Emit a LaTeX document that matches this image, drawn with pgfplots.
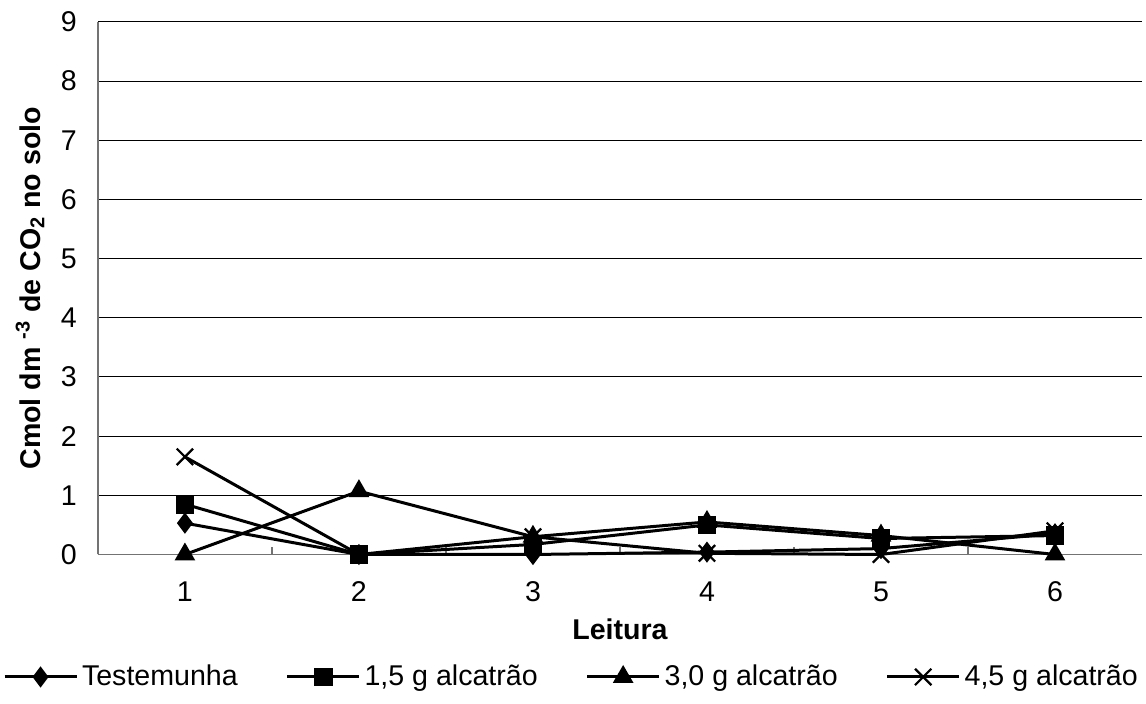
\documentclass[border=0pt]{standalone}
\usepackage{pgfplots}
\pgfplotsset{compat=1.18}
\usepackage{fontspec}
\setmainfont{Liberation Sans}
\begin{document}
\begin{tikzpicture}
\begin{axis}[name=ax,
  scale only axis,
  width=522.5pt, height=266.5pt,
  xmin=0.5, xmax=6.5,
  ymin=0, ymax=9,
  axis x line=bottom, axis y line=left,
  axis line style={-, draw=gray!90!black, line width=0.8pt},
  xtick={1,...,6},
  ytick={0,1,...,9},
  major tick length=0pt,
  extra x ticks={1.5,2.5,3.5,4.5,5.5},
  extra x tick labels={},
  extra x tick style={major tick length=4pt, tick align=inside, tick style={draw=gray!90!black, line width=0.6pt}, grid=none},
  ymajorgrids,
  grid style={black, line width=0.5pt},
  font=\fontsize{14.3pt}{16pt}\selectfont,
  /pgf/number format/assume math mode=true,
  xticklabel style={yshift=-10pt},
  yticklabel style={xshift=-7pt},
  xlabel={\bfseries Leitura},
  ylabel={\bfseries Cmol dm \textsuperscript{-3} de CO\textsubscript{2} no solo},
  every axis x label/.style={at={(axis description cs:0.5,-0.14)}, anchor=center},
  every axis y label/.style={at={(axis description cs:-0.065,0.5)}, rotate=90, anchor=center},
  legend style={at={(axis description cs:0.4545,-0.23)}, anchor=center, draw=none, fill=none,
    legend columns=4, /tikz/every even column/.append style={column sep=22pt},
    font=\fontsize{14.3pt}{16pt}\selectfont},
  legend image code/.code={\draw[mark repeat=2, mark phase=2] plot coordinates {(0pt,0pt) (18pt,0pt) (36pt,0pt)};},
  every axis plot/.append style={black, line width=1.5pt, mark options={solid, line width=1pt}},
  clip=false,
]
\addplot[mark=diamond*, mark size=4.5pt] coordinates {(1,0.53) (2,0) (3,0) (4,0.04) (5,0.1) (6,0.35)};
\addplot[mark=square*, mark size=4.2pt] coordinates {(1,0.85) (2,0) (3,0.17) (4,0.5) (5,0.27) (6,0.32)};
\addplot[mark=triangle*, mark size=5pt] coordinates {(1,0) (2,1.07) (3,0.3) (4,0.55) (5,0.32) (6,0)};
\addplot[mark=x, mark size=5.8pt, mark options={line width=1.1pt}] coordinates {(1,1.65) (2,0) (3,0.3) (4,0.02) (5,0) (6,0.4)};
\legend{Testemunha, {1,5 g alcatrão}, {3,0 g alcatrão}, {4,5 g alcatrão}}
\end{axis}
\pgfresetboundingbox
\path[use as bounding box] ([xshift=-49pt,yshift=-74.5pt]ax.south west) rectangle ([xshift=2pt,yshift=11pt]ax.north east);
\end{tikzpicture}
\end{document}
